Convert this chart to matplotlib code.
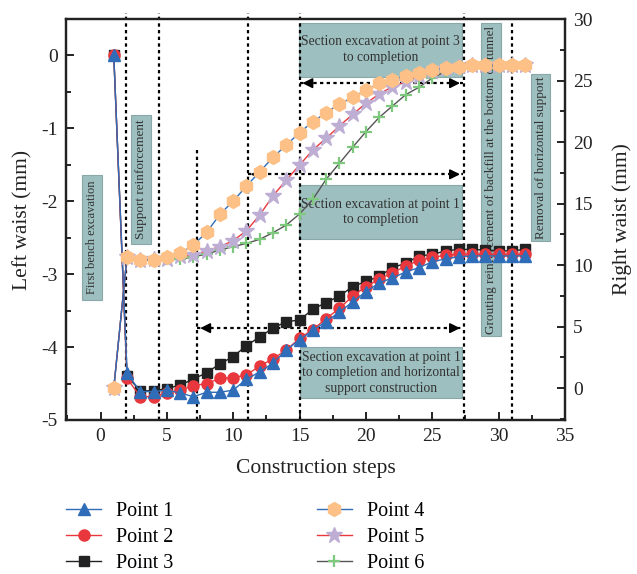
import numpy as np
import matplotlib
matplotlib.use("Agg")
import matplotlib.pyplot as plt
from matplotlib.patches import Rectangle

plt.rcParams["font.family"] = ["Liberation Serif", "DejaVu Serif"]

steps = list(range(1, 33))

# left waist (mm)
point1 = [0, -4.36, -4.61, -4.61, -4.59, -4.63, -4.68, -4.62, -4.62, -4.59, -4.44,
          -4.34, -4.22, -4.04, -3.90, -3.77, -3.65, -3.52, -3.38, -3.24, -3.12,
          -3.05, -2.97, -2.91, -2.83, -2.79, -2.76, -2.75, -2.75, -2.75, -2.75, -2.75]
point2 = [0, -4.43, -4.68, -4.68, -4.63, -4.59, -4.53, -4.50, -4.43, -4.42, -4.38,
          -4.26, -4.16, -4.04, -3.88, -3.76, -3.61, -3.47, -3.30, -3.17, -3.07,
          -2.98, -2.89, -2.81, -2.77, -2.74, -2.73, -2.73, -2.73, -2.73, -2.73, -2.73]
point3 = [0, -4.40, -4.60, -4.60, -4.57, -4.52, -4.44, -4.35, -4.23, -4.13, -3.98,
          -3.86, -3.74, -3.65, -3.63, -3.48, -3.39, -3.30, -3.17, -3.10, -3.03,
          -2.91, -2.85, -2.75, -2.73, -2.68, -2.66, -2.66, -2.67, -2.68, -2.68, -2.66]

# right waist (mm)
point4 = [0, 10.67, 10.41, 10.41, 10.62, 10.95, 11.63, 12.66, 14.12, 15.2, 16.42,
          17.59, 18.75, 19.76, 20.76, 21.65, 22.38, 23.09, 23.63, 24.23, 24.77,
          25.04, 25.4, 25.6, 25.85, 26.0, 26.1, 26.26, 26.26, 26.26, 26.26, 26.26]
point5 = [0, 10.67, 10.41, 10.45, 10.5, 10.73, 10.81, 11.16, 11.49, 11.98, 12.79,
          14.07, 15.63, 16.91, 18.13, 19.35, 20.30, 21.3, 22.25, 23.14, 23.9,
          24.5, 24.9, 25.4, 25.8, 26.0, 26.2, 26.26, 26.26, 26.26, 26.26, 26.26]
point6 = [0, 10.67, 10.41, 10.41, 10.45, 10.46, 10.67, 10.89, 11.22, 11.49, 11.76,
          12.09, 12.63, 13.25, 14.15, 15.34, 16.97, 18.27, 19.57, 20.84, 22.0,
          22.93, 23.85, 24.45, 25.2, 25.75, 26.1, 26.26, 26.26, 26.26, 26.26, 26.26]

stage_lines = [1.93, 4.44, 7.28, 11.1, 15.0, 27.4, 31.0]

BOX = "#9dbfbf"
TXT = "#333333"

fig = plt.figure(figsize=(6.37, 5.74), dpi=100)
ax = fig.add_axes([66 / 637, 1 - 420 / 574, 499 / 637, 401 / 574])
ax2 = ax.twinx()

ax.set_xlim(-2.6, 35)
ax.set_ylim(-5, 0.5)
ax2.set_ylim(-2.6, 30)

# text boxes, under the data
def box(x0, x1, y0, y1, text, rot=0, fs=9.8):
    ax.add_patch(Rectangle((x0, y0), x1 - x0, y1 - y0, facecolor=BOX,
                           edgecolor="#8aa8a8", lw=0.8, zorder=1, clip_on=False))
    ax.text((x0 + x1) / 2, (y0 + y1) / 2, text, ha="center", va="center",
            rotation=rot, fontsize=fs, color=TXT, zorder=1.5, linespacing=1.25)

box(14.98, 27.26, -0.29, 0.45, "Section excavation at point 3\nto completion")
box(14.98, 27.26, -2.52, -1.78, "Section excavation at point 1\nto completion")
box(15.06, 27.26, -4.70, -4.0,
    "Section excavation at point 1\nto completion and horizontal\nsupport construction")
box(-1.36, 0.15, -3.36, -1.64, "First bench excavation", rot=90, fs=9)
box(2.33, 3.77, -2.58, -0.81, "Support reinforcement", rot=90, fs=9.5)
box(28.69, 30.2, -3.85, 0.44,
    "Grouting reinforcement of backfill at the bottom of tunnel", rot=90, fs=9.5)
box(32.45, 33.89, -2.55, -0.26, "Removal of horizontal support", rot=90, fs=9.5)

# stage separators
for i, xv in enumerate(stage_lines):
    top = 0.58 if i != 2 and i != 6 else (-1.3 if i == 2 else 0.44)
    ax.plot([xv, xv], [-5, top], color="k", lw=1.6, ls=(0, (1.5, 1.5)),
            zorder=2, clip_on=False)

# dotted arrows
def darrow(x0, x1, y, left=True, right=True):
    ax.plot([x0, x1], [y, y], color="k", lw=1.6, ls=(0, (1.5, 1.5)), zorder=2)
    kw = dict(arrowstyle="-|>", color="k", lw=1.2, mutation_scale=15)
    if left:
        ax.annotate("", xy=(x0, y), xytext=(x0 + 1.2, y), arrowprops=kw, zorder=2)
    if right:
        ax.annotate("", xy=(x1, y), xytext=(x1 - 1.2, y), arrowprops=kw, zorder=2)

darrow(15.0, 27.3, -0.38)
darrow(11.1, 27.3, -1.63)
darrow(7.3, 27.3, -3.74)

# series
h3, = ax.plot(steps, point3, color="#222222", lw=1, marker="s", ms=7,
              mfc="#222222", mec="#222222", zorder=3, label="Point 3")
h2, = ax.plot(steps, point2, color="#e8383d", lw=1, marker="o", ms=8,
              mfc="#e8383d", mec="#e8383d", zorder=4, label="Point 2")
h1, = ax.plot(steps, point1, color="#2f6db8", lw=1, marker="^", ms=9,
              mfc="#2f6db8", mec="#2f6db8", zorder=5, label="Point 1")

h6, = ax2.plot(steps, point6, color="#555555", lw=1, marker="+", ms=9, mew=1.6,
               mec="#7fc97f", zorder=3, label="Point 6")
h5, = ax2.plot(steps, point5, color="#e8383d", lw=1, marker="*", ms=12,
               mfc="#beaed4", mec="#beaed4", zorder=4, label="Point 5")
h4, = ax2.plot(steps, point4, color="#2f6db8", lw=1, marker="h", ms=10,
               mfc="#fdc086", mec="#fdc086", zorder=5, label="Point 4")
ax2.set_zorder(ax.get_zorder() + 1)
ax2.patch.set_visible(False)

# axes styling
for a in (ax, ax2):
    for s in a.spines.values():
        s.set_linewidth(1.6)
        s.set_color("#222222")

ax.set_xticks([0, 5, 10, 15, 20, 25, 30, 35])
ax.set_xticks(np.arange(-2.5, 35, 2.5), minor=True)
ax.set_yticks([-5, -4, -3, -2, -1, 0])
ax.set_yticks(np.arange(-5, 0.6, 0.5), minor=True)
ax.set_yticklabels(["-5", "-4", "-3", "-2", "-1", "0"])
ax2.set_yticks([0, 5, 10, 15, 20, 25, 30])
ax2.set_yticks(np.arange(-2.5, 30.1, 2.5), minor=True)

ax.tick_params(axis="both", which="major", direction="in", length=6, width=1.4,
               labelsize=14, colors="#222222", top=False, right=False, pad=6)
ax.tick_params(axis="both", which="minor", direction="in", length=3.5, width=1.2,
               top=False, right=False)
ax2.tick_params(axis="y", which="major", direction="in", length=6, width=1.4,
                labelsize=14, colors="#222222", pad=6)
ax2.tick_params(axis="y", which="minor", direction="in", length=3.5, width=1.2)

ax.set_xlabel("Construction steps", fontsize=15.5, color="#222222", labelpad=10)
ax.set_ylabel("Left waist (mm)", fontsize=15.5, color="#222222", labelpad=6)
ax2.set_ylabel("Right waist (mm)", fontsize=15.5, color="#222222", labelpad=14)

fig.legend(handles=[h1, h2, h3, h4, h5, h6], ncol=2, loc="upper left",
           bbox_to_anchor=(58 / 637, 1 - 494 / 574), frameon=False, fontsize=14.5,
           handlelength=1.75, handletextpad=0.75, columnspacing=7.1,
           labelspacing=0.33, borderaxespad=0)

fig.savefig("out.png", dpi=100)
